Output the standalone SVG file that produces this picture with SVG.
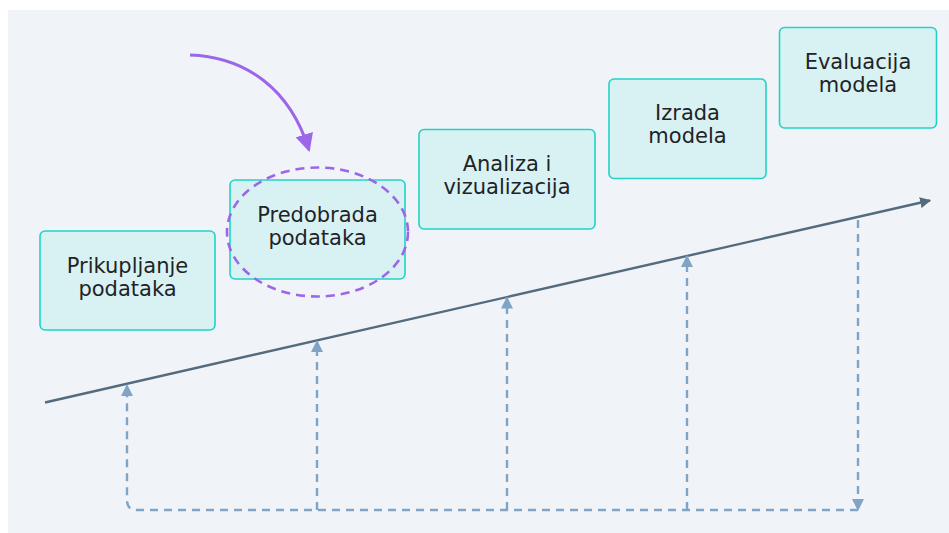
<svg xmlns="http://www.w3.org/2000/svg" width="949" height="533" viewBox="0 0 949 533">
<defs>
<style>
.box{fill:#d8f2f3;stroke:#22d3c5;stroke-width:1.6}
.lbl{font-family:"DejaVu Sans",Verdana,sans-serif;font-size:21px;fill:#1f2328;text-anchor:middle}
.dash{fill:none;stroke:#7fa4c6;stroke-width:2.4;stroke-dasharray:8 6}
</style>
<marker id="ah" viewBox="0 0 10 10" refX="9" refY="5" markerWidth="11" markerHeight="11" markerUnits="userSpaceOnUse" orient="auto"><path d="M0,0 L10,5 L0,10 z" fill="#546a7d"/></marker>
<marker id="ab" viewBox="0 0 12 12" refX="11" refY="6" markerWidth="12" markerHeight="12" markerUnits="userSpaceOnUse" orient="auto"><path d="M0,0 L12,6 L0,12 z" fill="#7fa4c6"/></marker>
<marker id="ap" viewBox="0 0 18 18" refX="16" refY="9" markerWidth="18" markerHeight="18" markerUnits="userSpaceOnUse" orient="auto"><path d="M0,0 L18,9 L0,18 z" fill="#9b66ea"/></marker>
</defs>
<rect x="8" y="10" width="941" height="523" fill="#f0f4f9"/>
<g id="connectors">
<line x1="45" y1="402.5" x2="930" y2="200.5" stroke="#546a7d" stroke-width="2.4" marker-end="url(#ah)"/>
<path class="dash" d="M858,510 L137,510 Q127,510 127,500 L127,385" marker-end="url(#ab)"/>
<line class="dash" x1="317" y1="510" x2="317" y2="341" marker-end="url(#ab)"/>
<line class="dash" x1="507" y1="510" x2="507" y2="297.5" marker-end="url(#ab)"/>
<line class="dash" x1="687" y1="510" x2="687" y2="256" marker-end="url(#ab)"/>
<line class="dash" x1="858" y1="220" x2="858" y2="510" marker-end="url(#ab)"/>
<path d="M190,55 C245,57 290,88 309,150" fill="none" stroke="#9b66ea" stroke-width="3" marker-end="url(#ap)"/>
</g>
<g id="n1"><rect class="box" x="40" y="231" width="175" height="99" rx="5"/><text class="lbl" x="127.5" y="273">Prikupljanje</text><text class="lbl" x="127.5" y="296">podataka</text></g>
<g id="n2"><rect class="box" x="230" y="180" width="175" height="99" rx="5"/><text class="lbl" x="317.5" y="222">Predobrada</text><text class="lbl" x="317.5" y="245">podataka</text></g>
<g id="n3"><rect class="box" x="419" y="129.5" width="176" height="99.5" rx="5"/><text class="lbl" x="507" y="170.5">Analiza i</text><text class="lbl" x="507" y="193.5">vizualizacija</text></g>
<g id="n4"><rect class="box" x="609" y="79" width="157" height="99.5" rx="5"/><text class="lbl" x="687.5" y="120">Izrada</text><text class="lbl" x="687.5" y="143">modela</text></g>
<g id="n5"><rect class="box" x="779.5" y="27.5" width="157" height="100.5" rx="5"/><text class="lbl" x="858" y="68.5">Evaluacija</text><text class="lbl" x="858" y="91.5">modela</text></g>
<g id="highlight"><ellipse cx="317.5" cy="232" rx="90.5" ry="64.5" fill="none" stroke="#9b66ea" stroke-width="2.6" stroke-dasharray="9 6"/></g>
</svg>
